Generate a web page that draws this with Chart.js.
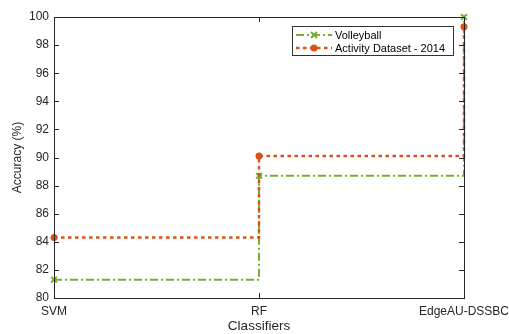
<!DOCTYPE html>
<html>
<head>
<meta charset="utf-8">
<script src="https://cdn.jsdelivr.net/npm/chart.js@4"></script>
<style>
  html, body { margin: 0; padding: 0; background: #fff; }
  #wrap { width: 509px; height: 334px; }
</style>
</head>
<body>
<div id="wrap"><canvas id="accChart" width="509" height="334"></canvas></div>
<script>
// ===== DATA =====
const classifiers = ['SVM', 'RF', 'EdgeAU-DSSBC'];
const volleyball = [81.3, 88.7, 100];
const activity2014 = [84.3, 90.1, 99.3];
const yTicks = [80, 82, 84, 86, 88, 90, 92, 94, 96, 98, 100];

const AXIS = '#262626';
const GREEN = '#77AC30';
const ORANGE = '#D95319';
const FONT = "'Liberation Sans', Arial, sans-serif";

// box round the axes, inward ticks and the legend, MATLAB style
const boxPlugin = {
  id: 'matlabBox',
  afterDraw(chart) {
    const { ctx, chartArea: a, scales } = chart;
    ctx.save();
    ctx.strokeStyle = AXIS;
    ctx.lineWidth = 1;
    ctx.beginPath();
    scales.y.ticks.forEach((t, i) => {
      const y = Math.round(scales.y.getPixelForTick(i)) + 0.5;
      ctx.moveTo(a.left, y); ctx.lineTo(a.left + 5, y);
      ctx.moveTo(a.right, y); ctx.lineTo(a.right - 5, y);
    });
    scales.x.ticks.forEach((t, i) => {
      const x = Math.round(scales.x.getPixelForTick(i)) + 0.5;
      ctx.moveTo(x, a.bottom); ctx.lineTo(x, a.bottom - 5);
      ctx.moveTo(x, a.top); ctx.lineTo(x, a.top + 5);
    });
    ctx.stroke();
    ctx.strokeRect(Math.round(a.left) + 0.5, Math.round(a.top) + 0.5,
      Math.round(a.right - a.left), Math.round(a.bottom - a.top));

    // legend
    const lx = 292, ly = 26, lw = 161, lh = 29;
    ctx.fillStyle = '#fff';
    ctx.fillRect(lx, ly, lw, lh);
    ctx.strokeStyle = '#333';
    ctx.strokeRect(lx + 0.5, ly + 0.5, lw, lh);
    ctx.font = '11px ' + FONT;
    ctx.textBaseline = 'middle';
    chart.data.datasets.forEach((ds, i) => {
      const y = ly + 9 + i * 13;
      ctx.save();
      ctx.strokeStyle = ds.borderColor;
      ctx.lineWidth = ds.borderWidth;
      ctx.setLineDash(ds.borderDash);
      ctx.beginPath();
      ctx.moveTo(lx + 4, y); ctx.lineTo(lx + 40, y);
      ctx.stroke();
      ctx.restore();
      ctx.save();
      ctx.strokeStyle = ds.borderColor;
      ctx.fillStyle = ds.borderColor;
      ctx.lineWidth = 2;
      const cx = lx + 22;
      if (ds.pointStyle === 'circle') {
        ctx.beginPath(); ctx.arc(cx, y, 3.5, 0, Math.PI * 2); ctx.fill();
      } else {
        ctx.beginPath();
        ctx.moveTo(cx - 3, y - 3); ctx.lineTo(cx + 3, y + 3);
        ctx.moveTo(cx + 3, y - 3); ctx.lineTo(cx - 3, y + 3);
        ctx.stroke();
      }
      ctx.restore();
      ctx.fillStyle = '#000';
      ctx.fillText(ds.label, lx + 43, y + 0.5);
    });
    ctx.restore();
  }
};

new Chart(document.getElementById('accChart'), {
  type: 'line',
  data: {
    labels: classifiers,
    datasets: [{
      label: 'Volleyball',
      data: volleyball,
      stepped: true,
      borderColor: GREEN,
      backgroundColor: GREEN,
      borderWidth: 2,
      borderDash: [8, 3, 2, 3],
      pointStyle: 'crossRot',
      pointRadius: 4,
      pointBorderWidth: 2,
      clip: false,
      order: 1
    }, {
      label: 'Activity Dataset - 2014',
      data: activity2014,
      stepped: true,
      borderColor: ORANGE,
      backgroundColor: ORANGE,
      borderWidth: 2.5,
      borderDash: [3.5, 3.5],
      pointStyle: 'circle',
      pointRadius: 3.5,
      pointBorderWidth: 0,
      clip: false,
      order: 0
    }]
  },
  options: {
    responsive: false,
    animation: false,
    layout: { padding: { left: 0, top: 17, right: 45, bottom: 0 } },
    plugins: { legend: { display: false }, tooltip: { enabled: false } },
    scales: {
      x: {
        type: 'category',
        offset: false,
        grid: { display: false, drawTicks: false },
        border: { display: false },
        ticks: { color: AXIS, font: { family: FONT, size: 12 }, padding: 6, autoSkip: false, maxRotation: 0 },
        title: { display: true, text: 'Classifiers', color: AXIS, font: { family: FONT, size: 13.5 }, padding: { top: 0, bottom: 0 } },
        afterFit(scale) { scale.height = 36; scale.paddingLeft = 0; scale.paddingRight = 0; }
      },
      y: {
        min: 80,
        max: 100,
        afterBuildTicks(scale) { scale.ticks = yTicks.map(v => ({ value: v })); },
        grid: { display: false, drawTicks: false },
        border: { display: false },
        ticks: { color: AXIS, font: { family: FONT, size: 12 }, padding: 5 },
        title: { display: true, text: 'Accuracy (%)', color: AXIS, font: { family: FONT, size: 12 }, padding: { top: 10, bottom: 0 } },
        afterFit(scale) { scale.width = 54; scale.paddingTop = 0; scale.paddingBottom = 0; }
      }
    }
  },
  plugins: [boxPlugin]
});
</script>
</body>
</html>
